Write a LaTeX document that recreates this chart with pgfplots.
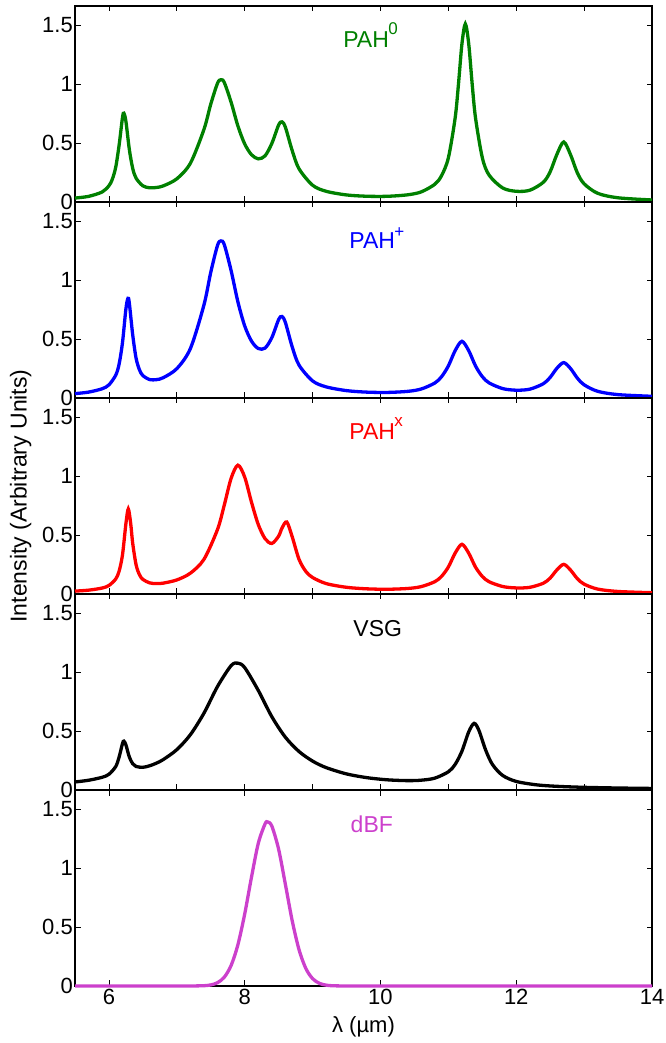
\documentclass[border=0pt]{standalone}
\usepackage{fontspec}
\setmainfont{Liberation Sans}
\usepackage{pgfplots}
\pgfplotsset{compat=1.18}
\definecolor{mgreen}{rgb}{0,0.5,0}
\definecolor{mblue}{rgb}{0,0,1}
\definecolor{mred}{rgb}{1,0,0}
\definecolor{mmag}{rgb}{0.8,0.25,0.8}
\tikzset{lab/.style={anchor=base west, font=\fontsize{23}{27}\selectfont}}
\newcommand{\chg}[2][12.5pt]{\kern-0.5pt\raisebox{#1}{\fontsize{17}{20}\selectfont #2}}
\pgfplotsset{
  panel/.style={
    scale only axis, width=577pt, height=196pt,
    anchor=south west,
    xmin=5.5, xmax=14, ymin=0, ymax=1.661,
    xtick={6,7,...,14}, xticklabels={},
    ytick={0,0.5,1,1.5},
    tick align=inside, major tick length=5.5pt,
    axis line style={line width=1.1pt, black},
    every tick/.style={black, line width=0.8pt},
    /pgf/number format/assume math mode=true,
    font=\fontsize{22}{26}\selectfont,
    tick label style={font=\fontsize{22}{26}\selectfont},
    yticklabel style={inner xsep=2pt, inner ysep=0pt},
    clip=false,
  },
  curve/.style={line width=3.3pt, smooth},
}
\begin{document}
\begin{tikzpicture}
\path[use as bounding box] (0,0) rectangle (665pt,1043pt);
% PAH0
\begin{axis}[panel, at={(75pt,841pt)}]
\addplot[curve, mgreen] coordinates {(5.5,0.0334)(5.7,0.0476)(5.9,0.0847)(6.0,0.1378)(6.05,0.1931)(6.1,0.2949)(6.15,0.4828)(6.2,0.7181)(6.22,0.7526)(6.25,0.684)(6.3,0.4468)(6.35,0.2849)(6.4,0.2016)(6.5,0.1366)(6.6,0.1203)(6.7,0.1229)(6.8,0.1364)(7.0,0.1964)(7.2,0.3286)(7.4,0.6156)(7.5,0.8293)(7.6,1.0069)(7.65,1.0363)(7.7,1.0117)(7.8,0.8446)(7.9,0.6437)(8.0,0.4918)(8.1,0.4006)(8.2,0.3656)(8.3,0.3912)(8.4,0.4967)(8.5,0.6526)(8.55,0.679)(8.6,0.6325)(8.7,0.4351)(8.8,0.2814)(9.0,0.1421)(9.2,0.0906)(9.5,0.0597)(9.8,0.0486)(10.1,0.0482)(10.4,0.0608)(10.6,0.0856)(10.8,0.1499)(10.9,0.2235)(11.0,0.3735)(11.1,0.7115)(11.15,1.0048)(11.2,1.3395)(11.25,1.5085)(11.3,1.3401)(11.35,1.0058)(11.4,0.7133)(11.5,0.3764)(11.6,0.2279)(11.8,0.119)(12.0,0.0906)(12.2,0.0997)(12.4,0.1678)(12.5,0.2565)(12.6,0.4048)(12.7,0.5086)(12.8,0.4004)(12.9,0.2477)(13.0,0.1542)(13.2,0.0735)(13.5,0.0355)(14.0,0.017)};
\node[lab, text=mgreen] at (axis cs:9.40,1.31) {PAH\chg{0}};
\end{axis}
% PAH+
\begin{axis}[panel, at={(75pt,645pt)}]
\addplot[curve, mblue] coordinates {(5.5,0.037)(5.7,0.0498)(5.9,0.0782)(6.0,0.1115)(6.1,0.1934)(6.15,0.288)(6.2,0.4715)(6.25,0.7554)(6.28,0.8444)(6.3,0.8051)(6.35,0.5356)(6.4,0.3367)(6.45,0.2379)(6.5,0.1899)(6.6,0.1559)(6.7,0.1556)(6.8,0.172)(7.0,0.2487)(7.2,0.4193)(7.4,0.7896)(7.5,1.0654)(7.6,1.2942)(7.65,1.3313)(7.7,1.2984)(7.8,1.0788)(7.9,0.8141)(8.0,0.6106)(8.1,0.4822)(8.2,0.4194)(8.3,0.4229)(8.4,0.5122)(8.5,0.6647)(8.55,0.6905)(8.6,0.6385)(8.7,0.4325)(8.8,0.2788)(9.0,0.1447)(9.2,0.0942)(9.5,0.0624)(9.8,0.0496)(10.1,0.0471)(10.4,0.0561)(10.6,0.0761)(10.8,0.1268)(10.9,0.1806)(11.0,0.2716)(11.1,0.4014)(11.2,0.4803)(11.3,0.4014)(11.4,0.272)(11.5,0.1812)(11.6,0.128)(11.8,0.0796)(12.0,0.066)(12.2,0.0748)(12.4,0.1211)(12.5,0.175)(12.6,0.2528)(12.7,0.2998)(12.8,0.2498)(12.9,0.1688)(13.0,0.1114)(13.2,0.0566)(13.5,0.0285)(14.0,0.0143)};
\node[lab, text=mblue] at (axis cs:9.49,1.27) {PAH\chg[10.5pt]{+}};
\end{axis}
% PAHx
\begin{axis}[panel, at={(75pt,449pt)},
  ylabel={Intensity (Arbitrary Units)},
  ylabel style={at={(axis description cs:-0.094,0.5)}, anchor=center, font=\fontsize{23}{27}\selectfont}]
\addplot[curve, mred] coordinates {(5.5,0.0245)(5.7,0.0324)(5.9,0.0504)(6.0,0.0723)(6.1,0.1273)(6.15,0.1935)(6.2,0.3331)(6.25,0.5965)(6.285,0.72)(6.32,0.5995)(6.35,0.4305)(6.4,0.2471)(6.45,0.1632)(6.5,0.1235)(6.6,0.0941)(6.7,0.0881)(6.8,0.0921)(7.0,0.1192)(7.2,0.1767)(7.4,0.2941)(7.6,0.5479)(7.7,0.7556)(7.8,0.9805)(7.9,1.0915)(8.0,0.9905)(8.1,0.778)(8.2,0.5885)(8.3,0.4688)(8.4,0.4284)(8.5,0.4906)(8.55,0.5595)(8.62,0.6103)(8.7,0.4845)(8.8,0.2941)(8.9,0.1917)(9.0,0.1398)(9.2,0.0883)(9.5,0.0567)(9.8,0.0437)(10.1,0.0402)(10.4,0.0467)(10.6,0.0625)(10.8,0.1042)(10.9,0.1496)(11.0,0.2284)(11.1,0.3463)(11.2,0.421)(11.3,0.3459)(11.4,0.228)(11.5,0.149)(11.6,0.1039)(11.8,0.0634)(12.0,0.0514)(12.2,0.0565)(12.4,0.0914)(12.5,0.1352)(12.6,0.2049)(12.7,0.2512)(12.8,0.2025)(12.9,0.1301)(13.0,0.0835)(13.2,0.0416)(13.5,0.0213)(14.0,0.011)};
\node[lab, text=mred] at (axis cs:9.49,1.31) {PAH\chg{x}};
\end{axis}
% VSG
\begin{axis}[panel, at={(75pt,253pt)}]
\addplot[curve, black] coordinates {(5.5,0.068)(5.7,0.0826)(5.9,0.1077)(6.0,0.1333)(6.1,0.1988)(6.15,0.2796)(6.2,0.3945)(6.22,0.4141)(6.25,0.3823)(6.3,0.2803)(6.35,0.2227)(6.4,0.1992)(6.5,0.1924)(6.6,0.2053)(6.7,0.2277)(6.8,0.2577)(7.0,0.3419)(7.2,0.4689)(7.4,0.6515)(7.6,0.8778)(7.8,1.0542)(7.9,1.0749)(8.0,1.0372)(8.2,0.8438)(8.4,0.6206)(8.6,0.4465)(8.8,0.3262)(9.0,0.245)(9.2,0.1896)(9.5,0.1363)(9.8,0.1045)(10.1,0.0863)(10.4,0.0793)(10.6,0.0831)(10.8,0.1004)(11.0,0.1542)(11.1,0.2166)(11.2,0.3291)(11.3,0.4924)(11.38,0.5647)(11.45,0.5053)(11.55,0.338)(11.65,0.2158)(11.8,0.1233)(12.0,0.0726)(12.3,0.0436)(12.6,0.0311)(13.0,0.0226)(13.5,0.0168)(14.0,0.0132)};
\node[lab, text=black] at (axis cs:9.55,1.30) {VSG};
\end{axis}
% dBF
\begin{axis}[panel, at={(75pt,57pt)},
  xtick={6,8,10,12,14}, xticklabels={6,8,10,12,14},
  xlabel={λ (µm)},
  xlabel style={at={(axis description cs:0.5,-0.209)}, anchor=center, font=\fontsize{22}{26}\selectfont}]
\addplot[curve, mmag] coordinates {(5.5,0)(7.0,0)(7.2,0.0001)(7.4,0.0026)(7.5,0.0091)(7.6,0.0282)(7.7,0.0752)(7.8,0.1743)(7.9,0.3503)(8.0,0.6103)(8.1,0.9224)(8.2,1.2089)(8.3,1.3743)(8.34,1.39)(8.4,1.3548)(8.5,1.1584)(8.6,0.859)(8.7,0.5524)(8.8,0.3082)(8.9,0.149)(9.0,0.0625)(9.1,0.0227)(9.2,0.0072)(9.3,0.002)(9.5,0.0001)(9.7,0)(14.0,0)};
\node[lab, text=mmag] at (axis cs:9.51,1.30) {dBF};
\end{axis}
\end{tikzpicture}
\end{document}
